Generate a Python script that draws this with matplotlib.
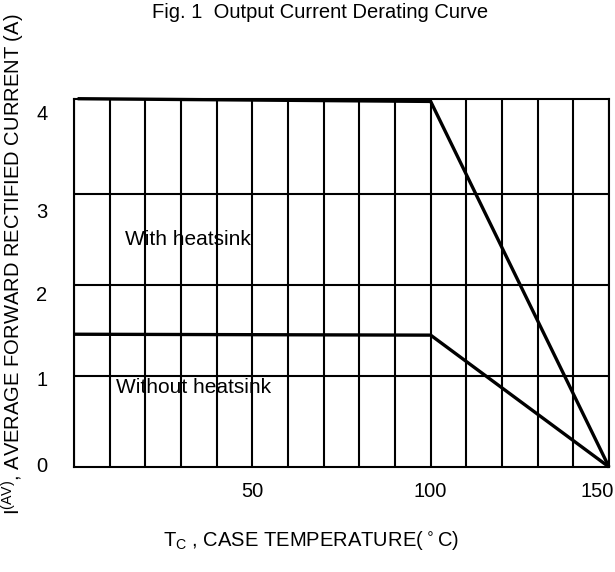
import matplotlib
matplotlib.use("Agg")
import matplotlib.pyplot as plt
import matplotlib.transforms as mtransforms

plt.rcParams["font.family"] = ["Liberation Sans", "DejaVu Sans"]

# curve data
temp_heatsink = [1, 100, 150]
amps_heatsink = [4.05, 4.02, 0.0]
temp_no_heatsink = [0, 100, 150]
amps_no_heatsink = [1.46, 1.45, 0.0]

x_grid = list(range(0, 151, 10))
y_grid = [1, 2, 3]
x_ticks = [50, 100, 150]
y_ticks = [0, 1, 2, 3, 4]
# the original labels sit a little off their gridlines (pixels)
y_label_shift = [-2, 2, 8, 16, 9]
x_label_shift = [0, 0, -12]

fig = plt.figure(figsize=(6.15, 5.72), dpi=100)
ax = fig.add_axes([74 / 615, 1 - 467 / 572, 535 / 615, 368.3 / 572])

for xv in x_grid:
    ax.axvline(xv, color="black", lw=1.5, zorder=1)
for yv in y_grid:
    ax.axhline(yv, color="black", lw=1.5, zorder=1)

ax.plot(temp_heatsink, amps_heatsink, color="black", lw=2.4, zorder=3,
        solid_capstyle="butt", clip_on=False)
ax.plot(temp_no_heatsink, amps_no_heatsink, color="black", lw=2.4, zorder=3,
        solid_capstyle="butt", clip_on=False)

ax.text(14.3, 2.50, "With heatsink", fontsize=15, va="center", ha="left")
ax.text(11.8, 0.87, "Without heatsink", fontsize=15, va="center", ha="left")

ax.set_xlim(0, 150)
ax.set_ylim(0, 4.05)
ax.set_xticks(x_ticks)
ax.set_xticklabels([str(v) for v in x_ticks])
ax.set_yticks(y_ticks)
ax.set_yticklabels([str(v) for v in y_ticks])
ax.tick_params(axis="both", length=0, labelsize=14.5)
ax.tick_params(axis="x", pad=11)
ax.tick_params(axis="y", pad=19)

for lab, dy in zip(ax.get_yticklabels(), y_label_shift):
    off = mtransforms.ScaledTranslation(0, -dy / 100, fig.dpi_scale_trans)
    lab.set_transform(lab.get_transform() + off)
for lab, dx in zip(ax.get_xticklabels(), x_label_shift):
    off = mtransforms.ScaledTranslation(dx / 100, 0, fig.dpi_scale_trans)
    lab.set_transform(lab.get_transform() + off)

for sp in ax.spines.values():
    sp.set_linewidth(1.5)

fig.text(320 / 615, 1 - 13 / 572, "Fig. 1  Output Current Derating Curve",
         fontsize=14.5, ha="center", va="center")
fig.text(311 / 615, 1 - 541 / 572,
         r"T$_\mathregular{C}$ , CASE TEMPERATURE($^\circ$C)",
         fontsize=14.5, ha="center", va="center")
fig.text(13 / 615, 1 - 264 / 572,
         r"I$^{\mathregular{(AV)}}$, AVERAGE FORWARD RECTIFIED CURRENT (A)",
         fontsize=14.5, rotation=90, ha="center", va="center")

fig.savefig("out.png", dpi=100)
